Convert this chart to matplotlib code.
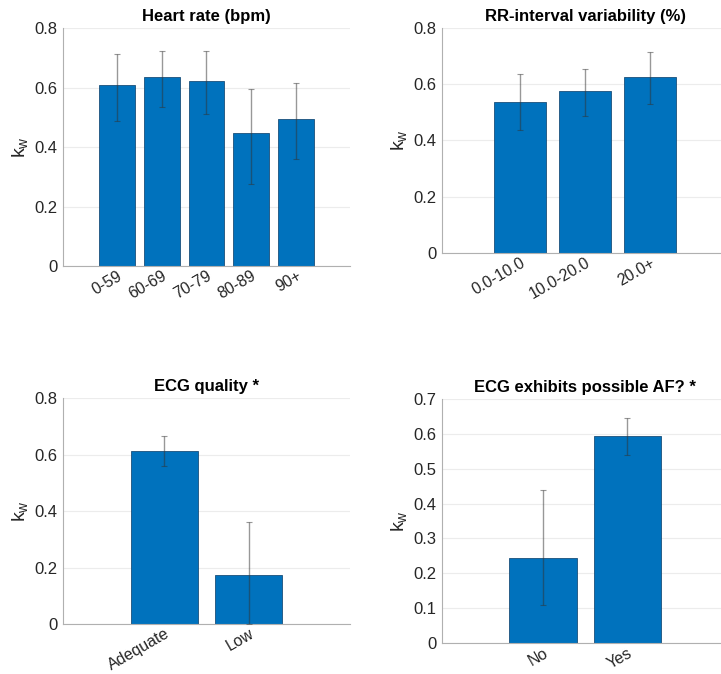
import numpy as np
import matplotlib
matplotlib.use("Agg")
import matplotlib.pyplot as plt

plt.rcParams['font.family'] = ['Liberation Sans', 'DejaVu Sans']

# heart rate
hr_labels = ["0-59", "60-69", "70-79", "80-89", "90+"]
hr_kw = [0.608, 0.635, 0.622, 0.448, 0.494]
hr_lo = [0.490, 0.534, 0.511, 0.276, 0.361]
hr_hi = [0.713, 0.723, 0.723, 0.596, 0.616]

# RR-interval variability
rr_labels = ["0.0-10.0", "10.0-20.0", "20.0+"]
rr_kw = [0.536, 0.575, 0.626]
rr_lo = [0.438, 0.486, 0.528]
rr_hi = [0.637, 0.653, 0.714]

# ECG quality
q_labels = ["Adequate", "Low"]
q_kw = [0.613, 0.175]
q_lo = [0.559, 0.0]
q_hi = [0.665, 0.361]

# possible AF
af_labels = ["No", "Yes"]
af_kw = [0.244, 0.594]
af_lo = [0.110, 0.538]
af_hi = [0.439, 0.645]

panels = [
    ("Heart rate (bpm)", hr_labels, hr_kw, hr_lo, hr_hi, 0.8, [0.0874, 0.605, 0.398, 0.353]),
    ("RR-interval variability (%)", rr_labels, rr_kw, rr_lo, rr_hi, 0.8, [0.613, 0.6246, 0.397, 0.334]),
    ("ECG quality *", q_labels, q_kw, q_lo, q_hi, 0.8, [0.0874, 0.0742, 0.398, 0.335]),
    ("ECG exhibits possible AF? *", af_labels, af_kw, af_lo, af_hi, 0.7, [0.613, 0.046, 0.397, 0.362]),
]

fig = plt.figure(figsize=(7.21, 6.74), dpi=100)

for title, labels, kw, lo, hi, ymax, rect in panels:
    ax = fig.add_axes(rect)
    x = np.arange(1, len(labels) + 1)
    kw = np.array(kw)
    yerr = [kw - np.array(lo), np.array(hi) - kw]
    ax.bar(x, kw, width=0.8, color="#0072BD", edgecolor="#1a4f7a", linewidth=0.6, zorder=2)
    ax.errorbar(x, kw, yerr=yerr, fmt="none", ecolor="#333333", alpha=0.5,
                elinewidth=1.0, capsize=2.5, capthick=0.8, zorder=3)
    ax.set_xlim(-0.2, len(labels) + 1.2)
    ax.set_ylim(0, ymax)
    step = 0.1 if ymax < 0.75 else 0.2
    ticks = np.round(np.arange(0, ymax + 1e-9, step), 1)
    ax.set_yticks(ticks)
    ax.set_yticklabels(["0" if t == 0 else f"{t:.1f}" for t in ticks])
    ax.set_xticks(x)
    ax.set_xticklabels(labels, rotation=30, ha="right", rotation_mode="anchor")
    ax.yaxis.grid(True, color="#ececec", linewidth=0.8, zorder=0)
    ax.set_axisbelow(True)
    for s in ["top", "right"]:
        ax.spines[s].set_visible(False)
    for s in ["left", "bottom"]:
        ax.spines[s].set_color("#b0b0b0")
        ax.spines[s].set_linewidth(0.8)
    ax.tick_params(length=0, labelsize=12, colors="#262626", pad=4)
    ax.tick_params(axis="x", labelsize=11.5, pad=1.5)
    ax.set_ylabel(r"$\mathregular{k_w}$", fontsize=14, color="#262626", labelpad=3)
    ax.set_title(title, fontsize=12, fontweight="bold", pad=5)

fig.savefig("out.png", dpi=100)
